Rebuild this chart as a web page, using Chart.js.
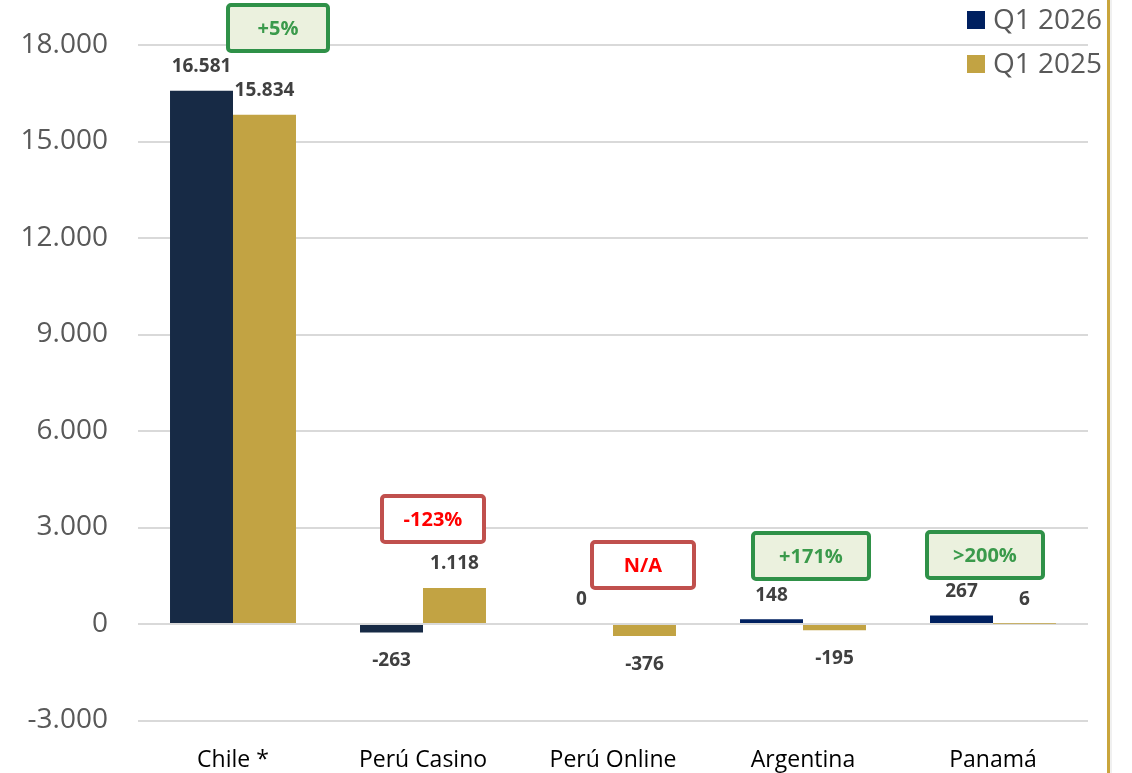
<!DOCTYPE html>
<html>
<head>
<meta charset="utf-8">
<script src="https://cdn.jsdelivr.net/npm/chart.js@4"></script>
<style>
  html, body { margin: 0; padding: 0; background: #fff; }
  #wrap { position: relative; width: 1132px; height: 773px; }
</style>
</head>
<body>
<div id="wrap"><canvas id="chart" width="1132" height="773"></canvas></div>
<script>
// data
const categories = ['Chile *', 'Perú Casino', 'Perú Online', 'Argentina', 'Panamá'];
const q1_2026 = [16581, -263, 0, 148, 267];
const q1_2025 = [15834, 1118, -376, -195, 6];
const yTicks = [-3000, 0, 3000, 6000, 9000, 12000, 15000, 18000];
const changeLabels = ['+5%', '-123%', 'N/A', '+171%', '>200%'];

// look of the change boxes (offset from category centre, pixel y, width)
const boxStyle = [
    { dx: 45, y: 28, w: 100, good: true },
    { dx: 10, y: 519, w: 102, good: false },
    { dx: 30, y: 565, w: 102, good: false },
    { dx: 8, y: 556, w: 116, good: true },
    { dx: -8, y: 555, w: 116, good: true }
];

const FONT = '"Open Sans", "Noto Sans", sans-serif';
const navyDark = '#172A45';
const navy = '#002060';
const gold = '#C2A343';

function fmt(v) {
    return String(v).replace(/\B(?=(\d{3})+(?!\d))/g, '.');
}

const valueLabels = {
    id: 'valueLabels',
    afterDatasetsDraw(chart) {
        const ctx = chart.ctx;
        ctx.save();
        ctx.font = 'bold 19px ' + FONT;
        ctx.fillStyle = '#404040';
        ctx.textAlign = 'center';
        ctx.textBaseline = 'middle';
        chart.data.datasets.forEach((ds, i) => {
            chart.getDatasetMeta(i).data.forEach((bar, j) => {
                const v = ds.data[j];
                const y = v < 0 ? bar.y + 28 : bar.y - 24;
                ctx.fillText(fmt(v), bar.x, y);
            });
        });
        ctx.restore();
    }
};

const changeBoxes = {
    id: 'changeBoxes',
    afterDraw(chart) {
        const ctx = chart.ctx;
        const xs = chart.scales.x;
        ctx.save();
        changeLabels.forEach((txt, i) => {
            const s = boxStyle[i];
            const cx = xs.getPixelForValue(i) + s.dx;
            const h = 46;
            const x = cx - s.w / 2, y = s.y - h / 2;
            ctx.beginPath();
            ctx.roundRect(x, y, s.w, h, 3);
            ctx.fillStyle = s.good ? '#EBF1DE' : '#FFFFFF';
            ctx.fill();
            ctx.lineWidth = 4;
            ctx.strokeStyle = s.good ? '#2F9148' : '#C0504D';
            ctx.stroke();
            ctx.font = 'bold 20px ' + FONT;
            ctx.fillStyle = s.good ? '#3A9A4B' : '#FF0000';
            ctx.textAlign = 'center';
            ctx.textBaseline = 'middle';
            ctx.fillText(txt, cx, s.y + 1);
        });
        ctx.restore();
    }
};

const legendAndFrame = {
    id: 'legendAndFrame',
    afterDraw(chart) {
        const ctx = chart.ctx;
        ctx.save();
        const items = [['Q1 2026', navy, 20], ['Q1 2025', gold, 64]];
        ctx.font = '28px ' + FONT;
        ctx.textAlign = 'left';
        ctx.textBaseline = 'middle';
        items.forEach(([t, c, y]) => {
            ctx.fillStyle = c;
            ctx.fillRect(967, y - 9, 18, 18);
            ctx.fillStyle = '#595959';
            ctx.fillText(t, 993, y + 1);
        });
        // right border
        ctx.fillStyle = 'rgba(0,0,0,0.06)';
        ctx.fillRect(1110, 0, 2, chart.height);
        ctx.fillStyle = '#C9A53C';
        ctx.fillRect(1107, 0, 3, chart.height);
        ctx.restore();
    }
};

new Chart(document.getElementById('chart'), {
    type: 'bar',
    data: {
        labels: categories,
        datasets: [{
            label: 'Q1 2026',
            data: q1_2026,
            backgroundColor: [navyDark, navyDark, navyDark, navy, navy]
        }, {
            label: 'Q1 2025',
            data: q1_2025,
            backgroundColor: gold
        }]
    },
    options: {
        responsive: false,
        devicePixelRatio: 1,
        animation: false,
        layout: { padding: { left: 0, right: 44, top: 0, bottom: 0 } },
        datasets: { bar: { barPercentage: 1, categoryPercentage: 0.663 } },
        plugins: {
            legend: { display: false },
            tooltip: { enabled: false }
        },
        scales: {
            x: {
                grid: { display: false, drawTicks: false },
                border: { display: false },
                ticks: { color: '#000', font: { family: FONT, size: 23 }, padding: 7 },
                afterFit(s) {
                    s.height = 33;
                    s.paddingLeft = 0; s.paddingRight = 0;
                }
            },
            y: {
                min: -3606,
                max: 19399,
                afterBuildTicks(s) { s.ticks = yTicks.map(v => ({ value: v })); },
                afterFit(s) {
                    s.width = 138;
                    s.paddingTop = 0; s.paddingBottom = 0;
                },
                grid: { color: '#D9D9D9', lineWidth: 2, drawTicks: false },
                border: { display: false },
                ticks: {
                    color: '#595959',
                    font: { family: FONT, size: 28 },
                    padding: 30,
                    callback: v => fmt(v)
                }
            }
        }
    },
    plugins: [valueLabels, changeBoxes, legendAndFrame]
});
</script>
</body>
</html>
